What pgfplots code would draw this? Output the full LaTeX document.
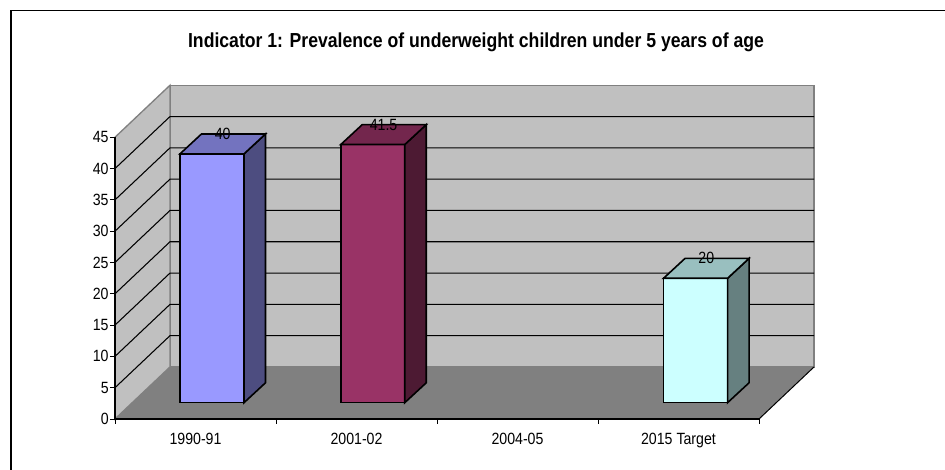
\documentclass[border=0pt]{standalone}
\usepackage{fontspec}
\setmainfont[FakeStretch=0.87]{Liberation Sans}
\usepackage{pgfplots}
\pgfplotsset{compat=1.18}
\definecolor{wall}{HTML}{C0C0C0}
\definecolor{floorc}{HTML}{808080}
\definecolor{baraf}{HTML}{9999FF}
\definecolor{barat}{HTML}{7373BF}
\definecolor{baras}{HTML}{4D4D80}
\definecolor{barbf}{HTML}{993366}
\definecolor{barbt}{HTML}{73264D}
\definecolor{barbs}{HTML}{4D1A33}
\definecolor{barcf}{HTML}{CCFFFF}
\definecolor{barct}{HTML}{99BFBF}
\definecolor{barcs}{HTML}{668080}
\pgfplotsset{
  plane/.style={
    at={(0,0)}, anchor=south west, scale only axis,
    width=483pt, height=211.3pt,
    xmin=0, xmax=4, clip=false,
  },
  face/.style={draw=black, line width=1.2pt, line join=miter, forget plot},
  grid line/.style={black, line width=0.8pt, forget plot},
}
\begin{document}
\begin{tikzpicture}[x=0.75pt, y=0.75pt]
% page is 945x470 px, origin on the front left corner of the floor (115,419)
\useasboundingbox (-115,-51) rectangle (830,419);
\fill[white] (-115,-51) rectangle (830,419);
\draw[black, line width=1.1pt] (-104,-51) -- (-104,408.5) -- (830,408.5);
\node[font=\bfseries\fontsize{15.2}{17}\selectfont] at (361,377) {Indicator 1: Prevalence of underweight children under 5 years of age};

% walls, floor, gridlines, ticks: depth is 55 px = 0.3416 x units, 52 px = 8.31 y units
\begin{axis}[
    plane,
    ymin=0, ymax=45,
    axis x line*=bottom, axis y line*=left,
    axis line style={-, black, line width=0.8pt},
    xtick={0,1,2,3,4},
    xticklabels={1990-91,2001-02,2004-05,2015 Target},
    x tick label as interval,
    ytick={0,5,10,15,20,25,30,35,40,45},
    tick align=outside, tick pos=lower,
    major tick length=3.75pt,
    tick style={black, line width=0.6pt},
    tick label style={font=\fontsize{12.2}{14}\selectfont},
    xticklabel style={yshift=-3.5pt},
    yticklabel style={xshift=2.5pt},
    /pgf/number format/assume math mode=true,
    axis on top,
]
\addplot[fill=wall, draw=floorc, line width=1pt, forget plot] coordinates {(0.3416,8.31) (4.3416,8.31) (4.3416,53.31) (0.3416,53.31)} -- cycle;
\addplot[fill=wall, draw=floorc, line width=1pt, forget plot] coordinates {(0,0) (0.3416,8.31) (0.3416,53.31) (0,45)} -- cycle;
\addplot[grid line] coordinates {(0,5) (0.3416,13.31) (4.3416,13.31)};
\addplot[grid line] coordinates {(0,10) (0.3416,18.31) (4.3416,18.31)};
\addplot[grid line] coordinates {(0,15) (0.3416,23.31) (4.3416,23.31)};
\addplot[grid line] coordinates {(0,20) (0.3416,28.31) (4.3416,28.31)};
\addplot[grid line] coordinates {(0,25) (0.3416,33.31) (4.3416,33.31)};
\addplot[grid line] coordinates {(0,30) (0.3416,38.31) (4.3416,38.31)};
\addplot[grid line] coordinates {(0,35) (0.3416,43.31) (4.3416,43.31)};
\addplot[grid line] coordinates {(0,40) (0.3416,48.31) (4.3416,48.31)};
\addplot[fill=floorc, draw=none, forget plot] coordinates {(0,0) (4,0) (4.3416,8.31) (0.3416,8.31)} -- cycle;
\addplot[black, line width=0.75pt, forget plot] coordinates {(4,0) (4.3416,8.31)};
\end{axis}

% bars: y=0 here is the base of the bars, 402.7 px down the page, 6.22 px a unit
\begin{axis}[
    plane,
    axis lines=none,
    ymin=-2.62, ymax=42.67,
]
\addplot[ybar, bar width=0.3975, bar shift=0pt, fill=baraf, face] coordinates {(0.6025,40)};
\addplot[fill=baras, face] coordinates {(0.80125,0) (0.93475,3.2) (0.93475,43.2) (0.80125,40)} -- cycle;
\addplot[fill=barat, face] coordinates {(0.40375,40) (0.53725,43.2) (0.93475,43.2) (0.80125,40)} -- cycle;
\addplot[ybar, bar width=0.3975, bar shift=0pt, fill=barbf, face] coordinates {(1.601,41.5)};
\addplot[fill=barbs, face] coordinates {(1.79975,0) (1.93325,3.2) (1.93325,44.7) (1.79975,41.5)} -- cycle;
\addplot[fill=barbt, face] coordinates {(1.40225,41.5) (1.53575,44.7) (1.93325,44.7) (1.79975,41.5)} -- cycle;
\addplot[ybar, bar width=0.3975, bar shift=0pt, fill=barcf, face] coordinates {(3.606,20)};
\addplot[fill=barcs, face] coordinates {(3.80475,0) (3.93825,3.2) (3.93825,23.2) (3.80475,20)} -- cycle;
\addplot[fill=barct, face] coordinates {(3.40725,20) (3.54075,23.2) (3.93825,23.2) (3.80475,20)} -- cycle;
% value labels sit on the back edge of each bar top
\addplot[only marks, mark=none, forget plot, point meta=explicit symbolic,
  nodes near coords, nodes near coords align={center},
  every node near coord/.append style={font=\fontsize{12.2}{14}\selectfont, inner sep=0pt, anchor=center}]
  coordinates {(0.669,43.2) [40] (1.668,44.7) [41.5] (3.673,23.2) [20]};
\end{axis}
\end{tikzpicture}
\end{document}
